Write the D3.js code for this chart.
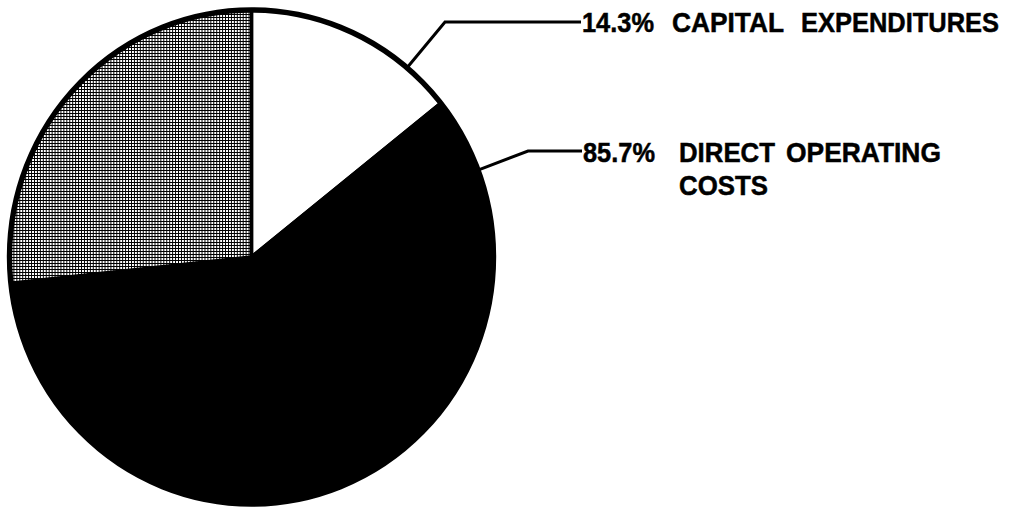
<!DOCTYPE html>
<html>
<head>
<meta charset="utf-8">
<script src="https://cdn.jsdelivr.net/npm/d3@7"></script>
<style>
  html, body { margin: 0; padding: 0; background: #fff; }
  svg { display: block; }
  text { font-family: "Liberation Sans", Arial, Helvetica, sans-serif; font-weight: bold; fill: #000; }
</style>
</head>
<body>
<div id="chart"></div>
<script>
// Cost shares (percent of total)
const capitalShare = 14.3;          // capital expenditures
const operatingShare = 85.7;        // direct operating costs (solid + shaded)
const operatingShadedShare = 26.7;  // shaded portion of direct operating costs

const sliceKeys = ["capital", "operating", "operatingShaded"];
const sliceValues = [capitalShare, operatingShare - operatingShadedShare, operatingShadedShare];
const sliceFills = ["#ffffff", "#000000", "url(#dotScreen)"];

// Callout labels: percent text and the words of each line
const labelPercents = [capitalShare, operatingShare];
const labelLines = [
  [["CAPITAL", "EXPENDITURES"]],
  [["DIRECT", "OPERATING"], ["COSTS"]]
];

const W = 1009, H = 510;
const cx = 251.5, cy = 257, rx = 242, ry = 247;

const svg = d3.select("#chart").append("svg")
  .attr("width", W).attr("height", H);

// Fine halftone screen for the shaded slice
const defs = svg.append("defs");
const pat = defs.append("pattern")
  .attr("id", "dotScreen")
  .attr("patternUnits", "userSpaceOnUse")
  .attr("width", 3).attr("height", 3);
pat.append("rect").attr("width", 3).attr("height", 3).attr("fill", "#000");
pat.append("rect").attr("x", 1).attr("y", 1).attr("width", 2).attr("height", 2).attr("fill", "#fff");

const pie = d3.pie().sort(null).value(d => d);
const arcs = pie(sliceValues);
const arc = d3.arc().innerRadius(0).outerRadius(ry);

const g = svg.append("g")
  .attr("transform", `translate(${cx},${cy}) scale(${rx / ry},1)`);

g.selectAll("path.slice")
  .data(arcs)
  .join("path")
  .attr("class", (d, i) => "slice " + sliceKeys[i])
  .attr("d", arc)
  .attr("fill", (d, i) => sliceFills[i])
  .attr("stroke", "#000")
  .attr("stroke-width", 3.5)
  .attr("stroke-linejoin", "miter");

// Heavy outer rim
g.append("circle")
  .attr("r", ry)
  .attr("fill", "none")
  .attr("stroke", "#000")
  .attr("stroke-width", 5.5);

// Point on the rim at a given angle (clockwise from 12 o'clock)
function rimPoint(a) {
  return [cx + rx * Math.sin(a), cy - ry * Math.cos(a)];
}

// Leader lines: start on the rim inside each labelled slice, elbow, then run to the text
const deg = Math.PI / 180;
const leaders = [
  { start: rimPoint(40 * deg), elbow: [445, 22], end: [581, 22] },
  { start: rimPoint(69.4 * deg), elbow: [528, 151], end: [582, 151] }
];

svg.selectAll("path.leader")
  .data(leaders)
  .join("path")
  .attr("class", "leader")
  .attr("d", d => d3.line()([d.start, d.elbow, d.end]))
  .attr("fill", "none")
  .attr("stroke", "#000")
  .attr("stroke-width", 3)
  .attr("stroke-linejoin", "miter");

// Label text layout: each word is placed at x and squeezed to width w
const fmt = v => d3.format(".1f")(v) + "%";
const labelLayout = [
  { pct: { x: 582, w: 72 }, baseline: 32, lineGap: 33,
    words: [[{ x: 672, w: 112 }, { x: 801, w: 198 }]] },
  { pct: { x: 583, w: 72 }, baseline: 162, lineGap: 33,
    words: [[{ x: 679, w: 96 }, { x: 786, w: 155 }], [{ x: 679, w: 89 }]] }
];

function placeWord(str, x, y, w) {
  const t = svg.append("text")
    .attr("font-size", 28)
    .attr("stroke", "#000")
    .attr("stroke-width", 0.5)
    .text(str);
  const natural = t.node().getComputedTextLength();
  t.attr("transform", `translate(${x},${y}) scale(${w / natural},1)`);
}

labelPercents.forEach((p, i) => {
  const L = labelLayout[i];
  placeWord(fmt(p), L.pct.x, L.baseline, L.pct.w);
  labelLines[i].forEach((line, li) => {
    line.forEach((word, wi) => {
      const pos = L.words[li][wi];
      placeWord(word, pos.x, L.baseline + li * L.lineGap, pos.w);
    });
  });
});
</script>
</body>
</html>
